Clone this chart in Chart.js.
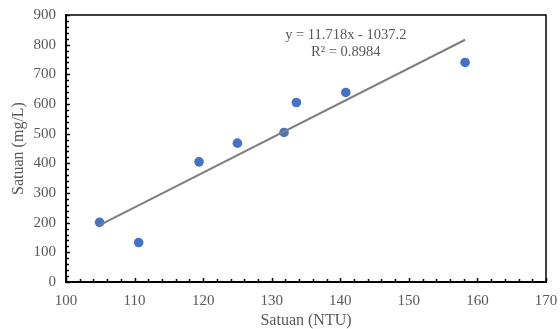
<!DOCTYPE html>
<html>
<head>
<meta charset="utf-8">
<script src="https://cdn.jsdelivr.net/npm/chart.js@4"></script>
<style>
  html, body { margin: 0; padding: 0; background: #fff; }
  #wrap { width: 560px; height: 329px; }
</style>
</head>
<body>
<div id="wrap"><canvas id="chart" width="560" height="329"></canvas></div>
<script>
// measured points
const ntuVals = [104.9, 110.6, 119.4, 125.0, 131.8, 133.6, 140.8, 158.2];
const mgVals = [201, 133, 405, 468, 504, 605, 639, 740];

// linear trendline end points (y = 11.718x - 1037.2)
const trendX = [104.9, 158.2];
const trendY = [192.0, 816.6];

const eqLines = ['y = 11.718x - 1037.2', 'R² = 0.8984'];
const eqAnchor = { x: 140.8, y: [833, 776] };

const xTitle = 'Satuan (NTU)';
const yTitle = 'Satuan (mg/L)';

const textGray = '#595959';
const serif = '"Liberation Serif", "Times New Roman", serif';

// plot frame + inward minor ticks
const framePlugin = {
    id: 'frame',
    afterDraw(chart) {
        const ctx = chart.ctx;
        const a = chart.chartArea;
        const xs = chart.scales.x, ys = chart.scales.y;
        ctx.save();
        ctx.strokeStyle = '#000';
        ctx.lineWidth = 1.5;
        ctx.beginPath();
        ctx.moveTo(a.left, a.top);
        ctx.lineTo(a.right, a.top);
        ctx.lineTo(a.right, a.bottom);
        ctx.stroke();

        ctx.lineWidth = 1.5;
        for (let v = 0; v <= 900; v += 20) {
            const py = Math.round(ys.getPixelForValue(v)) + 0.5;
            const len = v % 100 === 0 ? 4 : 3;
            ctx.beginPath();
            ctx.moveTo(a.left, py);
            ctx.lineTo(a.left + len, py);
            ctx.stroke();
        }
        for (let v = 100; v <= 170; v += 2) {
            const px = Math.round(xs.getPixelForValue(v)) + 0.5;
            const len = v % 10 === 0 ? 4 : 3;
            ctx.beginPath();
            ctx.moveTo(px, a.bottom);
            ctx.lineTo(px, a.bottom - len);
            ctx.stroke();
        }

        // equation label
        ctx.fillStyle = textGray;
        ctx.font = '14.5px ' + serif;
        ctx.textAlign = 'center';
        ctx.textBaseline = 'middle';
        eqLines.forEach((t, i) => {
            ctx.fillText(t, xs.getPixelForValue(eqAnchor.x), ys.getPixelForValue(eqAnchor.y[i]));
        });
        ctx.restore();
    }
};

new Chart(document.getElementById('chart').getContext('2d'), {
    type: 'scatter',
    data: {
        datasets: [
            {
                label: 'trend',
                type: 'line',
                data: trendX.map((x, i) => ({ x: x, y: trendY[i] })),
                borderColor: '#7f7f7f',
                borderWidth: 2,
                pointRadius: 0,
                fill: false
            },
            {
                label: 'data',
                data: ntuVals.map((x, i) => ({ x: x, y: mgVals[i] })),
                backgroundColor: '#4472C4',
                borderColor: '#4472C4',
                pointRadius: 4.8,
                pointBorderWidth: 0
            }
        ]
    },
    options: {
        responsive: false,
        animation: false,
        layout: { padding: { top: 15, right: 14, left: 0, bottom: 0 } },
        plugins: { legend: { display: false }, tooltip: { enabled: false } },
        scales: {
            x: {
                type: 'linear',
                min: 100, max: 170,
                afterFit: s => { s.height = 47; s.paddingLeft = 0; s.paddingRight = 0; },
                border: { color: '#000', width: 2 },
                grid: { display: true, drawOnChartArea: false, drawTicks: false },
                ticks: { stepSize: 10, color: textGray, padding: 10, font: { family: serif, size: 15 } },
                title: { display: true, text: xTitle, color: textGray, padding: { top: 0, bottom: 0 }, font: { family: serif, size: 16, lineHeight: 1.0 } }
            },
            y: {
                min: 0, max: 900,
                afterFit: s => { s.width = 66; s.paddingTop = 0; s.paddingBottom = 0; },
                border: { color: '#000', width: 2 },
                grid: { display: true, drawOnChartArea: false, drawTicks: false },
                ticks: { stepSize: 100, color: textGray, padding: 10, font: { family: serif, size: 15 } },
                title: { display: true, text: yTitle, color: textGray, padding: { top: 11, bottom: 11 }, font: { family: serif, size: 16, lineHeight: 1.0 } }
            }
        }
    },
    plugins: [framePlugin]
});
</script>
</body>
</html>
